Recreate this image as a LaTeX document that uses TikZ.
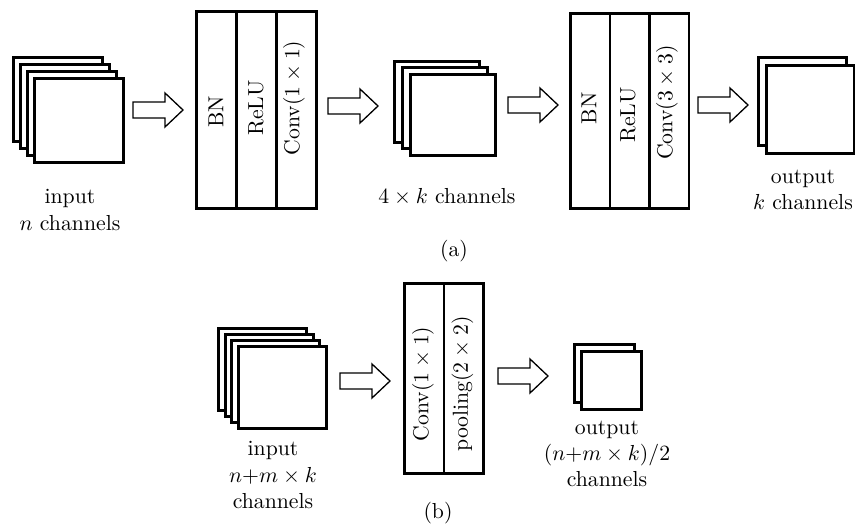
\documentclass[tikz,border=0pt]{standalone}
\usepackage{tikz}
\usetikzlibrary{positioning}

\newcommand\fatarrow[1]{%
  \draw [line width=0.6pt] (#1) ++(0,-8) -- ++(32,0) -- ++(0,-9) -- ++(18,17)
    -- ++(-18,17) -- ++(0,-9) -- ++(-32,0) -- cycle;}

\begin{document}
\begin{tikzpicture}[x=0.46pt,y=-0.46pt,
    fmap/.style={draw,line width=1.3pt,fill=white,inner sep=0pt,anchor=north west},
    layer/.style={draw,line width=1.2pt,inner sep=0pt,anchor=north west},
    vtxt/.style={rotate=90,inner sep=0pt},
    captxt/.style={align=center,inner sep=0pt}]% (a) dense block, (b) transition
  \useasboundingbox (0,0) rectangle (855,525);

  % (a) input maps
  \foreach \i in {0,...,3}
    \node (inA\i) at (12+7*\i,56+7*\i) [fmap,minimum width=89*0.46pt,minimum height=84*0.46pt] {};
  \node (inAtxt) at (70,210) [captxt] {input\\$n$ channels};
  \coordinate (arA1) at (133,110);
  \fatarrow{arA1}

  % first bottleneck
  \foreach \i in {0,1,2}
    \node (bkA\i) at (195+40*\i,10) [layer,minimum width=40*0.46pt,minimum height=197*0.46pt] {};
  \node (bkAt0) at (216,112) [vtxt] {BN};
  \node (bkAt1) at (256,108) [vtxt] {ReLU};
  \node (bkAt2) at (294,98) [vtxt] {Conv($1\times1$)};
  \coordinate (arA2) at (328,106);
  \fatarrow{arA2}

  % middle maps
  \foreach \i in {0,1,2}
    \node (midA\i) at (393+8*\i,60+6.5*\i) [fmap,minimum width=85*0.46pt,minimum height=81*0.46pt] {};
  \node (midAtxt) at (447,197) [captxt] {$4\times k$ channels};
  \coordinate (arA3) at (508,105);
  \fatarrow{arA3}

  % second bottleneck
  \foreach \i in {0,1,2}
    \node (bkB\i) at (569+39.5*\i,12) [layer,minimum width=39.5*0.46pt,minimum height=195*0.46pt] {};
  \node (bkBt0) at (589,108.5) [vtxt] {BN};
  \node (bkBt1) at (628,115) [vtxt] {ReLU};
  \node (bkBt2) at (667,102.5) [vtxt] {Conv($3\times3$)};
  \coordinate (arA4) at (698,105);
  \fatarrow{arA4}

  % output maps
  \foreach \i in {0,1}
    \node (outA\i) at (757+8*\i,56+8*\i) [fmap,minimum width=88*0.46pt,minimum height=88*0.46pt] {};
  \node (outAtxt) at (803,190) [captxt] {output\\$k$ channels};
  \node (capA) at (454,251) [captxt] {(a)};

  % (b) input maps
  \foreach \i in {0,...,3}
    \node (inB\i) at (217+6.7*\i,327+6*\i) [fmap,minimum width=88*0.46pt,minimum height=82*0.46pt] {};
  \node (inBtxt) at (273,475) [captxt] {input\\$n$+$m\times k$\\channels};
  \coordinate (arB1) at (340,381);
  \fatarrow{arB1}

  % transition layer
  \foreach \i in {0,1}
    \node (trB\i) at (403+39.5*\i,282) [layer,minimum width=39.5*0.46pt,minimum height=190*0.46pt] {};
  \node (trBt0) at (423,384) [vtxt] {Conv($1\times1$)};
  \node (trBt1) at (462.5,384) [vtxt] {pooling($2\times2$)};
  \coordinate (arB2) at (498,376);
  \fatarrow{arB2}

  % output maps
  \foreach \i in {0,1}
    \node (outB\i) at (573+7*\i,343+7*\i) [fmap,minimum width=60*0.46pt,minimum height=58*0.46pt] {};
  \node (outBtxt) at (607,454) [captxt] {output\\($n$+$m\times k$)/2\\channels};
  \node (capB) at (438,513) [captxt] {(b)};
\end{tikzpicture}
\end{document}
